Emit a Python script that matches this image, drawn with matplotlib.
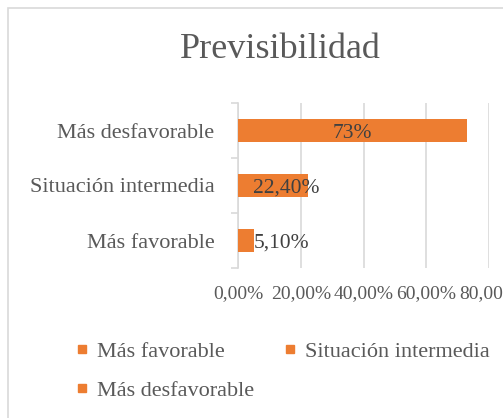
import matplotlib.pyplot as plt
from matplotlib.patches import Rectangle
from matplotlib.lines import Line2D
import matplotlib.transforms as mtransforms

plt.rcParams['font.family'] = ['Liberation Serif', 'DejaVu Serif']

categories = ["Más favorable", "Situación intermedia", "Más desfavorable"]
values = [0.051, 0.224, 0.73]
value_labels = ["5,10%", "22,40%", "73%"]
label_modes = ["outside", "end", "center"]
xticks = [0, 0.2, 0.4, 0.6, 0.8]
xtick_labels = ["0,00%", "20,00%", "40,00%", "60,00%", "80,00%"]

orange = "#ED7D31"
text_gray = "#595959"
dark_gray = "#404040"
grid_gray = "#d9d9d9"

fig = plt.figure(figsize=(5.03, 4.18), dpi=100)
fig.patches.append(Rectangle((8 / 503, -0.05), 1.2, 1 - 8 / 418 + 0.05,
                             transform=fig.transFigure, fill=False,
                             edgecolor=grid_gray, linewidth=1.2))

ax = fig.add_axes([238 / 503, 1 - 268 / 418, 251 / 503, 165 / 418])
y = list(range(len(categories)))
ax.barh(y, values, height=0.42, color=orange, zorder=3)

for yi, v, lab, mode in zip(y, values, value_labels, label_modes):
    if mode == "center":
        ax.text(v / 2, yi, lab, ha="center", va="center_baseline", fontsize=15.5,
                color=dark_gray, zorder=4)
    elif mode == "end":
        off = mtransforms.offset_copy(ax.transData, fig=fig, x=8, y=0, units="points")
        ax.text(v, yi, lab, ha="right", va="center_baseline", fontsize=15.5,
                color=dark_gray, transform=off, zorder=4)
    else:
        ax.text(v, yi, lab, ha="left", va="center_baseline", fontsize=15.5,
                color=dark_gray, zorder=4)

ax.set_xlim(0, 0.8)
ax.set_ylim(-0.5, 2.5)
ax.set_xticks(xticks)
ax.set_xticklabels(xtick_labels, fontsize=14, color=text_gray)
shift = mtransforms.ScaledTranslation(-6 / 100, 0, fig.dpi_scale_trans)
for t in ax.get_xticklabels():
    t.set_transform(t.get_transform() + shift)
ax.tick_params(axis="x", length=0, pad=12)
ax.grid(axis="x", color=grid_gray, linewidth=1.2, zorder=0)

ax.set_yticks([-0.5, 0.5, 1.5, 2.5])
ax.set_yticklabels([])
ax.set_yticks(y, minor=True)
ax.set_yticklabels(categories, minor=True, fontsize=16, color=text_gray)
ax.tick_params(axis="y", which="major", length=5, color=grid_gray, width=1.2)
ax.tick_params(axis="y", which="minor", length=0, pad=17)

for s in ["top", "right", "bottom"]:
    ax.spines[s].set_visible(False)
ax.spines["left"].set_color(grid_gray)
ax.spines["left"].set_linewidth(1.2)

fig.text(280 / 503, 1 - 50 / 418, "Previsibilidad", ha="center", va="center",
         fontsize=26, color=text_gray)

# row-major legend order: favorable, intermedia / desfavorable
order = [0, 2, 1]
handles = [Line2D([], [], marker="s", linestyle="none", color=orange, markersize=6)
           for _ in order]
fig.legend(handles, [categories[i] for i in order], loc="upper left",
           bbox_to_anchor=(55 / 503, 1 - 321 / 418),
           ncol=2, frameon=False, fontsize=16, labelcolor=text_gray,
           handlelength=0.6, handletextpad=0.4, columnspacing=1.3, labelspacing=0.85)

fig.savefig("out.png", dpi=100)
